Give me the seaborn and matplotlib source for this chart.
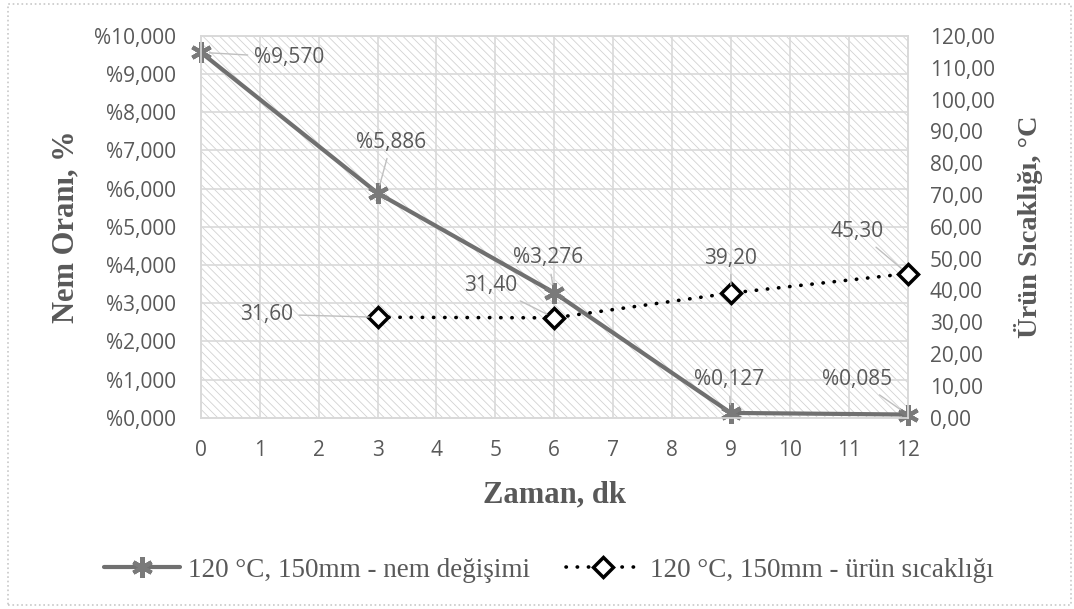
import matplotlib
matplotlib.use("Agg")
import matplotlib.pyplot as plt
import seaborn as sns
import numpy as np
import pandas as pd
from matplotlib.patches import Rectangle
from matplotlib.ticker import FuncFormatter, MultipleLocator

# ---- data ----
time_nem = [0, 3, 6, 9, 12]
nem = [9.570, 5.886, 3.276, 0.127, 0.085]
time_temp = [3, 6, 9, 12]
temp = [31.60, 31.40, 39.20, 45.30]
label_nem = "120 °C, 150mm - nem değişimi"
label_temp = "120 °C, 150mm - ürün sıcaklığı"
xlabel = "Zaman, dk"
ylabel_left = "Nem Oranı, %"
ylabel_right = "Ürün Sıcaklığı, °C"

# ---- style ----
sns.set_style("white")
plt.rcParams["font.family"] = ["Open Sans", "DejaVu Sans"]
plt.rcParams["hatch.linewidth"] = 0.6

TXT = "#595959"
GRID = "#d9d9d9"

fig = plt.figure(figsize=(10.74, 6.09), dpi=100)
ax = fig.add_axes([0.187, 0.314, 0.658, 0.627])
ax2 = ax.twinx()

# hatched plot background
bg = Rectangle((0, 0), 1, 1, transform=ax.transAxes, facecolor="white",
               edgecolor="#d2d2d2", linewidth=0, hatch="\\\\\\\\", zorder=0)
ax.add_patch(bg)

df_nem = pd.DataFrame({"t": time_nem, "v": nem})
df_temp = pd.DataFrame({"t": time_temp, "v": temp})

sns.lineplot(data=df_nem, x="t", y="v", ax=ax, color="#707070", linewidth=3,
             marker=(6, 2, 0), markersize=15, markeredgewidth=3,
             markeredgecolor="#7a7a7a", label=label_nem, legend=False, zorder=3,
             clip_on=False)
sns.lineplot(data=df_temp, x="t", y="v", ax=ax2, color="black", linewidth=2.6,
             marker="D", markersize=10, markeredgewidth=2.5,
             markerfacecolor="white", markeredgecolor="black",
             label=label_temp, legend=False, zorder=3, clip_on=False)
tl = ax2.get_lines()[-1]
tl.set_dashes((0.1, 3.0))
tl.set_dash_capstyle("round")

# axes limits / ticks
ax.set_xlim(0, 12)
ax.set_ylim(0, 10)
ax2.set_ylim(0, 120)
ax.xaxis.set_major_locator(MultipleLocator(1))
ax.yaxis.set_major_locator(MultipleLocator(1))
ax2.yaxis.set_major_locator(MultipleLocator(10))
ax.yaxis.set_major_formatter(FuncFormatter(lambda v, p: ("%" + f"{v:.3f}").replace(".", ",")))
ax2.yaxis.set_major_formatter(FuncFormatter(lambda v, p: f"{v:.2f}".replace(".", ",")))

ax.grid(True, color=GRID, linewidth=1.2, zorder=1)
ax.set_axisbelow(True)
for a in (ax, ax2):
    for s in a.spines.values():
        s.set_color(GRID)
        s.set_linewidth(1.2)
ax.tick_params(axis="both", length=0, labelsize=15, labelcolor=TXT)
ax.tick_params(axis="y", pad=18)
ax.tick_params(axis="x", pad=16)
ax2.tick_params(axis="y", length=0, labelsize=15, labelcolor=TXT, pad=16)

serif = ["Liberation Serif", "DejaVu Serif"]
ax.set_xlabel(xlabel, family=serif, fontweight="bold", fontsize=22, color=TXT, labelpad=14)
ax.set_ylabel(ylabel_left, family=serif, fontweight="bold", fontsize=22, color=TXT, labelpad=10)
ax2.set_ylabel(ylabel_right, family=serif, fontweight="bold", fontsize=20.5, color=TXT, labelpad=14)

# ---- data labels ----
def fmt_nem(v):
    return ("%" + f"{v:.3f}").replace(".", ",")

def fmt_temp(v):
    return f"{v:.2f}".replace(".", ",")

nem_offsets = [(88, -5), (14, 51), (-6, 35), (-2, 33), (-50, 35)]
temp_offsets = [(-111, 3), (-64, 32), (0, 35), (-50, 42)]
lead = dict(arrowstyle="-", color="#bfbfbf", lw=1, shrinkA=2, shrinkB=6)

for (t, v), off in zip(zip(time_nem, nem), nem_offsets):
    ax.annotate(fmt_nem(v), (t, v), xytext=off, textcoords="offset pixels",
                ha="center", va="center", fontsize=15, color=TXT,
                arrowprops=lead, zorder=5, annotation_clip=False)
for (t, v), off in zip(zip(time_temp, temp), temp_offsets):
    ax2.annotate(fmt_temp(v), (t, v), xytext=off, textcoords="offset pixels",
                 ha="center", va="center", fontsize=15, color=TXT,
                 arrowprops=lead, zorder=5, annotation_clip=False)

# ---- legend ----
handles = [ax.get_lines()[0], tl]
leg = fig.legend(handles, [label_nem, label_temp], loc="center",
                 bbox_to_anchor=(0.511, 0.064), ncol=2, frameon=False,
                 prop={"family": serif, "size": 19.5}, handlelength=2.8,
                 columnspacing=1.3, handletextpad=0.3)
for t in leg.get_texts():
    t.set_color(TXT)

# outer dotted border
fig.patches.append(Rectangle((0.007, 0.006), 0.99, 0.987, transform=fig.transFigure,
                             fill=False, edgecolor="#c8c8c8", linestyle=":", linewidth=1.2))

fig.savefig("out.png", dpi=100)
